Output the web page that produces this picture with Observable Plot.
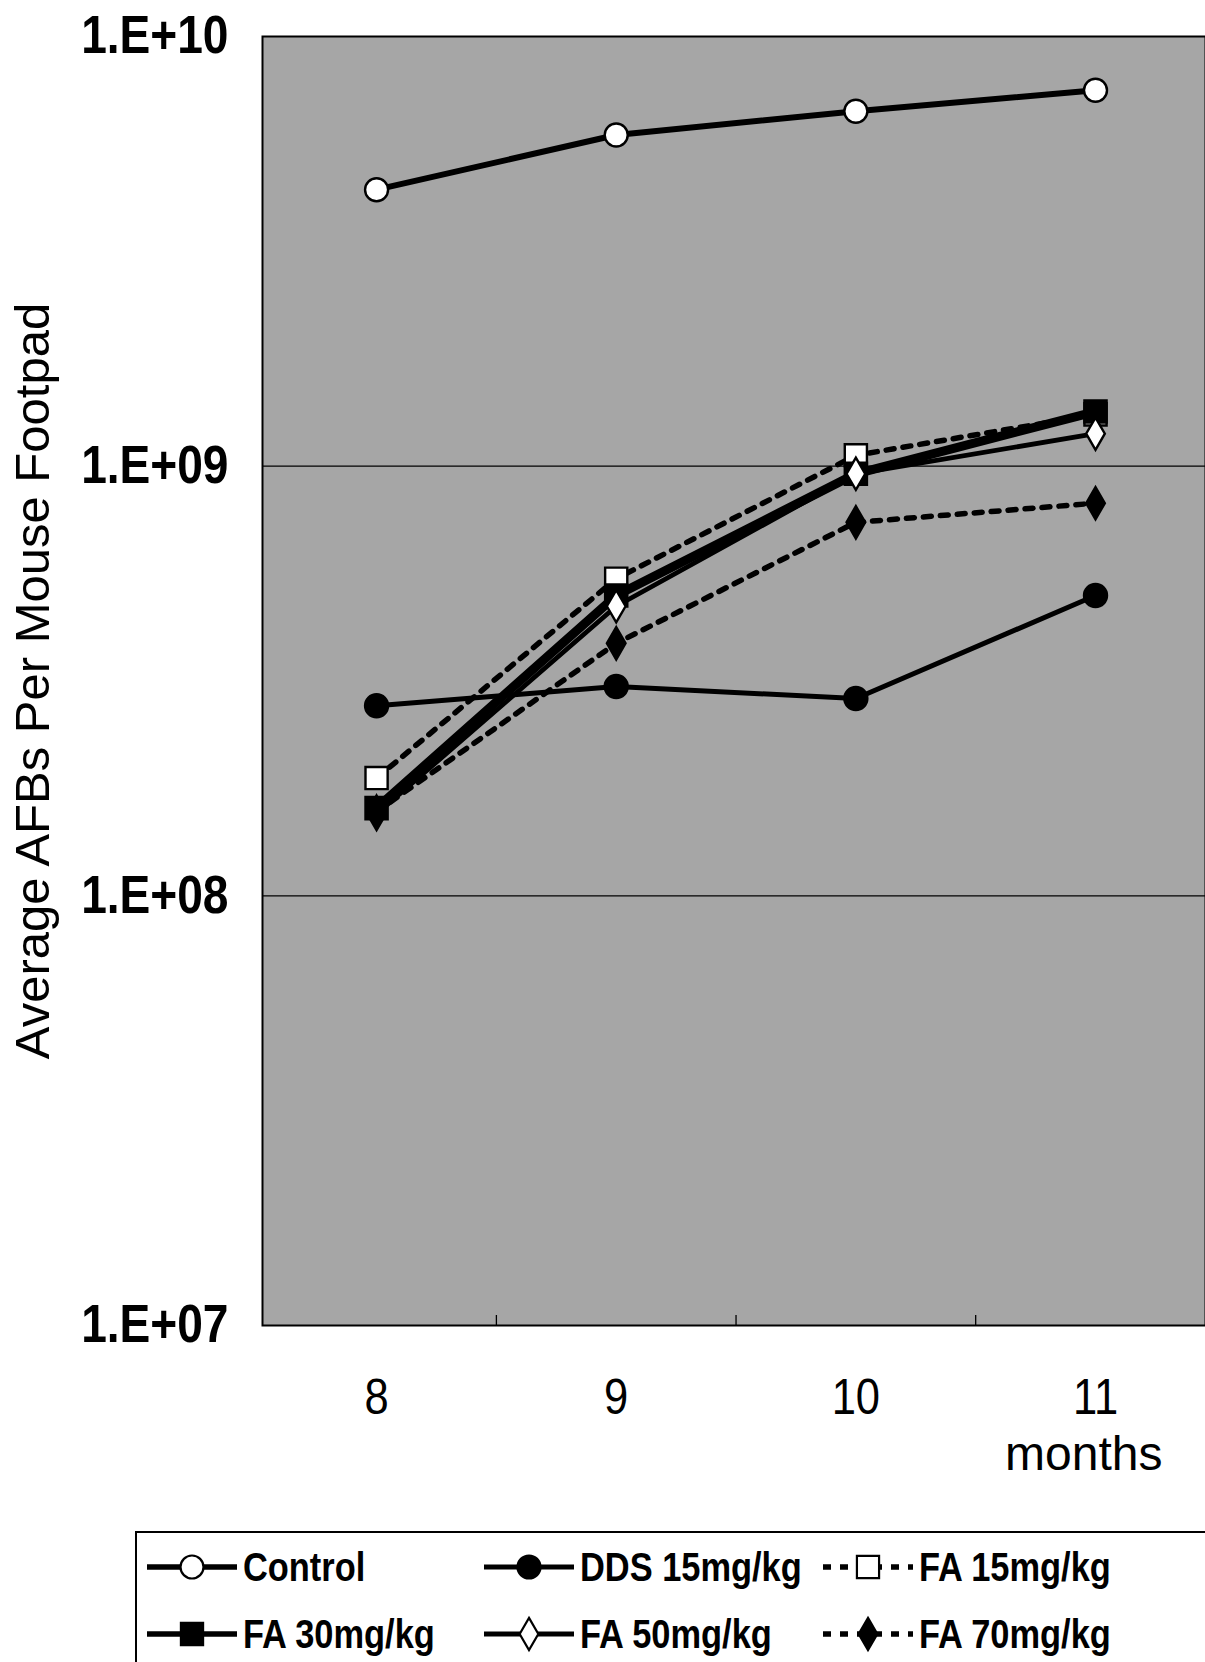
<!DOCTYPE html>
<html>
<head>
<meta charset="utf-8">
<script src="https://cdn.jsdelivr.net/npm/d3@7"></script>
<script src="https://cdn.jsdelivr.net/npm/@observablehq/plot@0.6"></script>
<style>
  html, body { margin: 0; padding: 0; background: #fff; overflow: hidden; }
  #wrap { position: relative; width: 1205px; height: 1662px; overflow: hidden; }
  #ytitle { position: absolute; left: 32px; top: 681px; transform: translate(-50%, -50%) rotate(-90deg);
    font-family: "Liberation Sans", Arial, sans-serif; font-size: 49px; white-space: nowrap; color: #000; }
  #months { position: absolute; left: 1005px; top: 1426px; font-family: "Liberation Sans", Arial, sans-serif;
    font-size: 48px; color: #000; white-space: nowrap; }
  #legend { position: absolute; left: 135px; top: 1531px; width: 1100px; height: 160px; border: 2px solid #000; box-sizing: border-box; }
  .item { position: absolute; display: flex; align-items: center; height: 50px; }
  .item span { display: inline-block; transform: scaleX(0.86); transform-origin: left center;
    font-family: "Liberation Sans", Arial, sans-serif; font-weight: bold; font-size: 40px; color: #000; white-space: nowrap; margin-left: 4px; }
</style>
</head>
<body>
<div id="wrap">
  <div id="chart"></div>
  <div id="ytitle">Average AFBs Per Mouse Footpad</div>
  <div id="months">months</div>
  <div id="legend"></div>
</div>
<script>
// ---- data ----
const months = [8, 9, 10, 11];
const seriesNames = ["Control", "DDS 15mg/kg", "FA 15mg/kg", "FA 30mg/kg", "FA 50mg/kg", "FA 70mg/kg"];
const control = [4.4e9, 5.9e9, 6.7e9, 7.5e9];
const dds15   = [2.77e8, 3.07e8, 2.88e8, 5.0e8];
const fa15    = [1.88e8, 5.47e8, 1.06e9, 1.32e9];
const fa30    = [1.60e8, 5.0e8, 9.6e8, 1.34e9];
const fa50    = [1.55e8, 4.72e8, 9.6e8, 1.19e9];
const fa70    = [1.57e8, 3.87e8, 7.4e8, 8.2e8];
const yTicks  = [1e7, 1e8, 1e9, 1e10];
const gridLines = [1e8, 1e9];

const seriesValues = [control, dds15, fa15, fa30, fa50, fa70];

// ---- styles ----
const styles = {
  "Control":     {symbol: "circle",  fill: "white", r: 11.5, width: 6,   dash: null},
  "DDS 15mg/kg": {symbol: "circle",  fill: "black", r: 11.5, width: 5,   dash: null},
  "FA 15mg/kg":  {symbol: "square",  fill: "white", r: 12.5, width: 5.5, dash: "8,9"},
  "FA 30mg/kg":  {symbol: "square",  fill: "black", r: 12.5, width: 9,   dash: null},
  "FA 50mg/kg":  {symbol: "diamond", fill: "white", r: 9.8,  width: 4.8, dash: null},
  "FA 70mg/kg":  {symbol: "diamond", fill: "black", r: 9.8,  width: 5.5, dash: "8,9"}
};

const rows = seriesNames.flatMap((name, i) =>
  months.map((m, j) => ({series: name, month: m, value: seriesValues[i][j]})));

const boundaries = d3.pairs(months).map(([a, b]) => (a + b) / 2);

const seriesMarks = seriesNames.flatMap(name => {
  const s = styles[name];
  const data = rows.filter(d => d.series === name);
  return [
    Plot.line(data, {x: "month", y: "value", stroke: "black", strokeWidth: s.width,
      strokeDasharray: s.dash || undefined, strokeLinejoin: "round"}),
    Plot.dot(data, {x: "month", y: "value", symbol: s.symbol, r: s.r, fill: s.fill,
      stroke: "black", strokeWidth: 2.4})
  ];
});

const chart = Plot.plot({
  width: 1205,
  height: 1480,
  marginLeft: 262,
  marginRight: 0,
  marginTop: 36,
  marginBottom: 155,
  x: {domain: [7.524, 11.459]},
  y: {type: "log", domain: [1e7, 1e10]},
  marks: [
    Plot.frame({fill: "#a6a6a6", stroke: "black", strokeWidth: 2}),
    Plot.ruleY(gridLines, {stroke: "black", strokeWidth: 1.3}),
    Plot.axisX({ticks: boundaries, tickSize: 10, dy: -10, tickFormat: () => "", label: null, strokeWidth: 1.3}),
    Plot.axisY({ticks: yTicks, tickSize: 0, tickPadding: 34, label: null,
      tickFormat: d => "1.E+" + String(Math.round(Math.log10(d))).padStart(2, "0"),
      fontSize: 53, fontWeight: "bold", fontFamily: "'Liberation Sans', Arial, sans-serif"}),
    Plot.axisX({ticks: months, tickSize: 0, tickPadding: 53, label: null, tickFormat: d => String(d),
      fontSize: 50, fontFamily: "'Liberation Sans', Arial, sans-serif"}),
    ...seriesMarks
  ]
});
chart.style.color = "black";
document.getElementById("chart").appendChild(chart);

// condense the axis tick labels horizontally (reference uses a narrow face)
function condense(selector, sx) {
  chart.querySelectorAll(selector).forEach(el => {
    const t = el.getAttribute("transform");
    if (t) {
      el.setAttribute("transform", t + ` scale(${sx},1)`);
    } else {
      const x = +(el.getAttribute("x") || 0), y = +(el.getAttribute("y") || 0);
      el.removeAttribute("x"); el.removeAttribute("y");
      el.setAttribute("transform", `translate(${x},${y}) scale(${sx},1)`);
    }
  });
}
condense("g[aria-label='y-axis tick label'] text", 0.87);
condense("g[aria-label='x-axis tick label'] text", 0.87);

// ---- legend ----
const legend = document.getElementById("legend");
const legendPos = [
  {left: 8, top: 9}, {left: 345, top: 9}, {left: 684, top: 9},
  {left: 8, top: 76}, {left: 345, top: 76}, {left: 684, top: 76}
];
const symbolMap = {circle: d3.symbolCircle, square: d3.symbolSquare, diamond: d3.symbolDiamond};
seriesNames.forEach((name, i) => {
  const s = styles[name];
  const item = document.createElement("div");
  item.className = "item";
  item.style.left = legendPos[i].left + "px";
  item.style.top = legendPos[i].top + "px";
  const svg = d3.create("svg").attr("width", 94).attr("height", 50);
  svg.append("line").attr("x1", 2).attr("x2", 92).attr("y1", 25).attr("y2", 25)
    .attr("stroke", "black").attr("stroke-width", Math.min(s.width, 5.5))
    .attr("stroke-dasharray", s.dash ? "8,9" : null);
  svg.append("path")
    .attr("d", d3.symbol(symbolMap[s.symbol], Math.PI * s.r * s.r)())
    .attr("transform", "translate(47,25)")
    .attr("fill", s.fill).attr("stroke", "black").attr("stroke-width", 2.2);
  item.appendChild(svg.node());
  const label = document.createElement("span");
  label.textContent = name;
  item.appendChild(label);
  legend.appendChild(item);
});
</script>
</body>
</html>
